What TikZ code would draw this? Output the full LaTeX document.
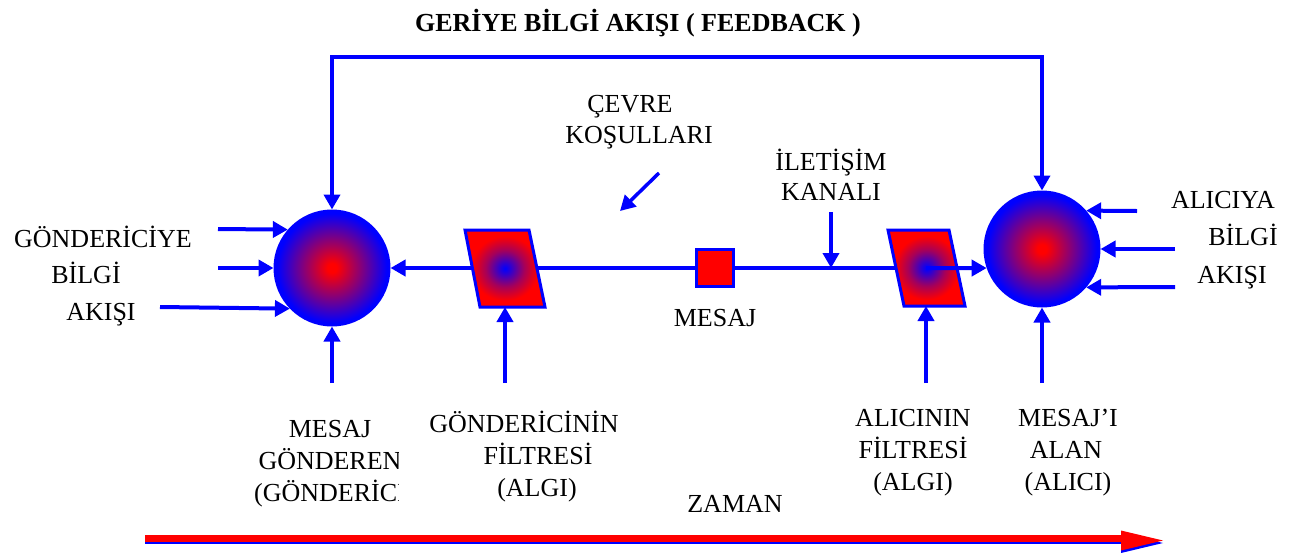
\documentclass[tikz,border=0pt]{standalone}
\usepackage{fontspec}
\setmainfont{Liberation Serif}
\usetikzlibrary{arrows.meta}
\pgfdeclareradialshading{cshade}{\pgfpoint{0bp}{0bp}}{color(0bp)=(red); color(2bp)=(red); color(12bp)=(red!55!blue); color(24bp)=(blue); color(50bp)=(blue)}
\pgfdeclareradialshading{fshade}{\pgfpoint{0bp}{0bp}}{color(0bp)=(blue); color(3bp)=(blue!85!red); color(12bp)=(red!65!blue); color(21bp)=(red); color(50bp)=(red)}
\begin{document}
\begin{tikzpicture}[x=1pt,y=-1pt,
  lbl/.style={font=\fontsize{26}{32}\selectfont, inner sep=0pt, anchor=base, align=center},
  ttl/.style={font=\fontsize{26}{30}\selectfont\bfseries, inner sep=0pt, anchor=base},
  ball/.style={circle, minimum size=114pt, inner sep=0pt, draw=blue, line width=3pt, shade, shading=cshade},
  flt/.style={draw=blue, line width=3pt, shading=fshade},
  msgbox/.style={rectangle, minimum size=37pt, inner sep=0pt, draw=blue, line width=3pt, fill=red},
  arr/.style={draw=blue, line width=4pt, -{Triangle[length=15pt,width=16pt]}},
  farr/.style={draw=blue, line width=4pt, {Triangle[length=15pt,width=16pt]}-{Triangle[length=15pt,width=16pt]}, line join=miter}
]
\useasboundingbox (0,0) rectangle (1296,552);

% title
\node[ttl] (title) at (638,31) {GERİYE BİLGİ AKIŞI ( FEEDBACK )};

% circles
\node[ball] (L) at (332,268) {};
\node[ball] (R) at (1042,249) {};

% filter centres and reference points
\coordinate (lf) at (505,268);
\coordinate (rf) at (926,268);
\coordinate (lfb) at (505,307);
\coordinate (rfb) at (926,306);
\coordinate (kk) at (831,268);

% main channel line
\draw[arr] (rf) -- (L.east);

% filters
\shade[flt] (465,230) -- (529,230) -- (545,307) -- (480,307) -- cycle;
\shade[flt] (888,230) -- (949,230) -- (965,306) -- (904,306) -- cycle;

% message box
\node[msgbox] (M) at (715,268) {};

% filter to receiver
\draw[arr] (rf) -- (R.199);

% feedback
\coordinate (fb1) at (332,57);
\coordinate (fb2) at (1042,57);
\draw[farr] (L.north) -- (fb1) -- (fb2) -- (R.north);

% channel arrow
\coordinate (k0) at (831,212);
\draw[arr] (k0) -- (kk);

% environment arrow
\coordinate (e0) at (659,173);
\coordinate (e1) at (620,211);
\draw[arr, line width=3.5pt] (e0) -- (e1);

% left incoming arrows
\coordinate (a1) at (218,229);
\coordinate (a2) at (218,268);
\coordinate (a3) at (160,307);
\draw[arr] (a1) -- (L.139);
\draw[arr] (a2) -- (L.west);
\draw[arr] (a3) -- (L.224);

% right incoming arrows
\coordinate (b1) at (1137,211);
\coordinate (b2) at (1175,249);
\coordinate (b3) at (1175,287);
\draw[arr] (b1) -- (R.41);
\draw[arr] (b2) -- (R.east);
\draw[arr] (b3) -- (R.319);

% bottom arrows
\coordinate (c1) at (332,383);
\coordinate (c2) at (505,383);
\coordinate (c3) at (926,383);
\coordinate (c4) at (1042,383);
\draw[arr] (c1) -- (L.south);
\draw[arr] (c2) -- (lfb);
\draw[arr] (c3) -- (rfb);
\draw[arr] (c4) -- (R.south);

% labels
\node[lbl] (cev1) at (630,112) {ÇEVRE};
\node[lbl] (cev2) at (639,143) {KOŞULLARI};
\node[lbl] (ik1) at (831,170) {İLETİŞİM};
\node[lbl] (ik2) at (831,200) {KANALI};
\node[lbl] (mes) at (715,326) {MESAJ};

\node[lbl] (g1) at (103,247) {GÖNDERİCİYE};
\node[lbl] (g2) at (86,283) {BİLGİ};
\node[lbl] (g3) at (101,320) {AKIŞI};

\node[lbl] (r1) at (1223,208) {ALICIYA};
\node[lbl] (r2) at (1243,245) {BİLGİ};
\node[lbl] (r3) at (1232,283) {AKIŞI};

\begin{scope}
\clip (200,395) rectangle (398,520);
\node[lbl] (s1) at (330,437) {MESAJ};
\node[lbl] (s2) at (330,469) {GÖNDEREN};
\node[lbl] (s3) at (330,501) {(GÖNDERİCİ};
\end{scope}

\node[lbl] (f1) at (524,432) {GÖNDERİCİNİN};
\node[lbl] (f2) at (538,464) {FİLTRESİ};
\node[lbl] (f3) at (537,496) {(ALGI)};

\node[lbl] (h1) at (913,426) {ALICININ};
\node[lbl] (h2) at (913,458) {FİLTRESİ};
\node[lbl] (h3) at (913,490) {(ALGI)};

\node[lbl] (m1) at (1068,426) {MESAJ’I};
\node[lbl] (m2) at (1066,458) {ALAN};
\node[lbl] (m3) at (1068,490) {(ALICI)};

\node[lbl] (zaman) at (735,512) {ZAMAN};

% time arrow
\coordinate (t0) at (145,538.5);
\coordinate (t1) at (1121,538.5);
\coordinate (t2) at (145,543);
\coordinate (t3) at (1121,543);
\draw[red, line width=7pt] (t0) -- (t1);
\draw[blue, line width=2.5pt] (t2) -- (t3);
\fill[blue] (1121,533) -- (1163,543) -- (1121,553) -- cycle;
\fill[red] (1121,530.5) -- (1163,540.5) -- (1121,550.5) -- cycle;
\end{tikzpicture}
\end{document}
